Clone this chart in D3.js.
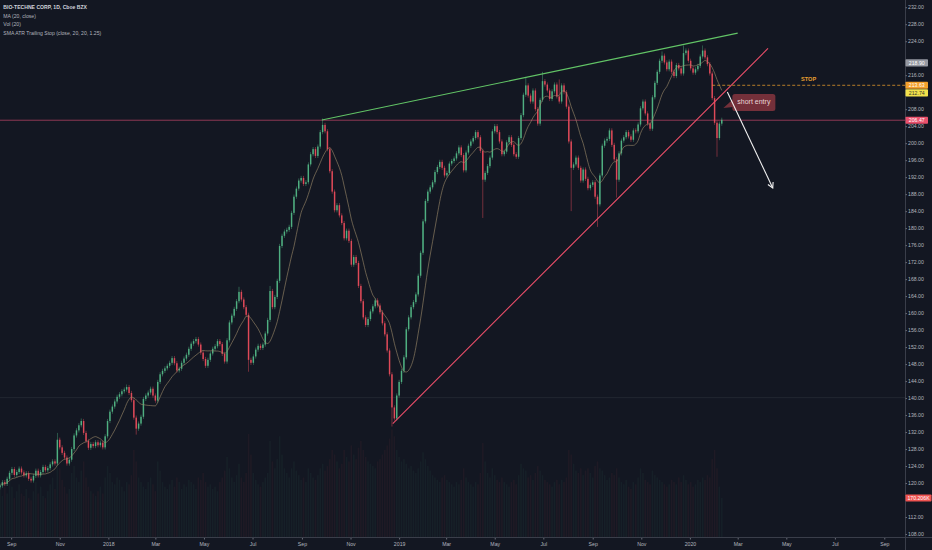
<!DOCTYPE html>
<html lang="en">
<head>
    <meta charset="UTF-8"/>
    <title>BIO-TECHNE CORP, 1D, Cboe BZX</title>
    <script src="https://d3js.org/d3.v7.min.js"></script>
    <style>
        html, body {
            margin: 0;
            padding: 0;
            background: #131722;
        }
        svg {
            display: block;
        }
        text {
            font-family: "Liberation Sans", Arial, sans-serif;
        }
    </style>
</head>
<body>
<div id="chart"></div>
<script>
    // one candle every 3 calendar days, starting here
    const firstDate = "2017-08-18";
    const stepDays = 3;

    // closing prices
    const closes = [
        119.4, 120.2, 119.8, 121.0, 122.4, 123.3, 121.9, 122.6, 123.4, 122.5,
        121.8, 122.3, 121.0, 120.6, 121.7, 122.9, 121.8, 122.6, 123.8, 123.0,
        123.5, 124.4, 125.1, 124.6, 130.2, 128.4, 127.1, 126.0, 124.6, 125.5,
        128.0, 131.2, 132.4, 133.6, 134.6, 131.8, 129.9, 128.3, 129.2, 128.7,
        129.6, 128.9, 129.5, 128.4, 131.0, 134.6, 136.8, 138.0, 139.2, 140.3,
        140.9, 141.6, 142.0, 142.6, 141.2, 139.5, 135.4, 132.8, 134.0, 135.6,
        139.8, 140.6, 141.3, 142.2, 140.6, 139.4, 143.8, 145.6, 146.4, 147.0,
        147.6, 148.3, 149.4, 148.2, 146.5, 146.9, 148.3, 149.3, 150.2, 151.6,
        152.8, 153.4, 153.9, 152.6, 150.7, 149.2, 147.6, 149.0, 150.5, 151.6,
        152.2, 153.4, 152.7, 150.4, 148.6, 153.6, 157.8, 159.4, 161.0, 162.8,
        165.0, 163.2, 161.4, 159.6, 149.0, 148.3, 149.8, 151.4, 152.3, 151.8,
        152.6, 155.2, 158.4, 165.2, 161.4, 163.8, 167.6, 175.8, 178.2, 179.2,
        179.6, 180.3, 183.6, 187.4, 189.3, 191.2, 191.8, 190.4, 190.8, 195.0,
        197.4, 198.6, 197.0, 199.2, 202.6, 204.3, 202.8, 198.6, 193.4, 188.6,
        184.2, 185.4, 183.0, 181.2, 177.6, 179.4, 177.0, 171.4, 173.2, 171.8,
        166.4, 162.8, 159.0, 157.2, 158.6, 160.4, 161.6, 163.0, 161.8, 160.2,
        157.6, 155.0, 151.2, 145.6, 137.8, 135.2, 140.6, 143.8, 146.4, 149.6,
        156.2, 159.0, 161.4, 162.6, 164.4, 168.8, 174.2, 181.6, 186.4, 188.6,
        189.6, 190.8, 193.2, 194.4, 195.6, 194.2, 192.4, 193.0, 195.2, 195.8,
        196.4, 197.6, 199.0, 197.2, 193.6, 197.8, 199.4, 200.4, 201.2, 202.6,
        201.4, 198.2, 191.4, 193.0, 194.6, 196.6, 202.8, 204.0, 202.6, 200.4,
        197.4, 198.0, 200.2, 201.4, 199.6, 197.4, 196.8, 201.2, 206.6, 211.4,
        213.6, 211.2, 209.8, 212.4, 208.0, 204.6, 210.2, 214.6, 213.8, 212.4,
        210.4, 212.2, 213.8, 211.0, 209.8, 213.6, 212.0, 208.6, 200.4, 194.2,
        195.0, 196.6, 194.2, 191.2, 193.8, 191.6, 189.4, 190.2, 190.8, 187.4,
        185.6, 192.4, 199.4, 200.6, 201.0, 203.0, 199.6, 196.2, 191.4, 197.6,
        200.6, 201.4, 202.6, 201.6, 200.8, 203.0, 202.8, 204.4, 208.2, 209.8,
        207.0, 204.6, 203.4, 210.8, 214.2, 216.8, 219.4, 220.6, 219.0, 217.4,
        219.2, 216.8, 215.8, 218.4, 217.6, 216.4, 221.2, 221.8, 219.4, 217.6,
        216.6, 217.4, 218.2, 220.4, 221.8, 220.2, 218.6, 216.4, 210.6, 204.8,
        201.2, 204.6, 205.5
    ];
    const firstOpen = 119.0;

    // volume in thousands
    const volumes = [
        210, 180, 240, 190, 260, 220, 170, 200, 230, 190,
        180, 210, 170, 160, 200, 240, 190, 220, 180, 170,
        200, 230, 260, 210, 420, 300, 250, 220, 190, 210,
        280, 310, 260, 240, 290, 330, 260, 220, 200, 190,
        180, 200, 220, 190, 260, 310, 280, 240, 230, 260,
        250, 220, 200, 240, 230, 270, 380, 330, 260, 240,
        220, 210, 240, 260, 230, 200, 330, 290, 240, 220,
        210, 230, 250, 220, 260, 240, 210, 230, 220, 250,
        240, 230, 210, 260, 250, 280, 240, 220, 230, 210,
        220, 200, 240, 260, 290, 350, 300, 260, 240, 270,
        320, 260, 240, 280, 450, 360, 280, 250, 230, 220,
        240, 260, 280, 420, 330, 300, 340, 440, 360, 300,
        280, 260, 300, 330, 290, 270, 250, 260, 240, 300,
        280, 260, 250, 270, 300, 320, 290, 310, 340, 380,
        360, 330, 300, 320, 380, 350, 330, 400, 360, 340,
        390, 420, 380, 350, 330, 320, 310, 300, 330, 340,
        360, 380, 400, 430, 470, 440, 380, 350, 330, 340,
        320, 300, 310, 290, 280, 300, 330, 370, 340, 310,
        290, 270, 260, 250, 240, 260, 270, 250, 240, 230,
        220, 240, 230, 250, 300, 260, 240, 230, 220, 240,
        230, 280, 410, 330, 280, 260, 300, 270, 250, 240,
        260, 240, 230, 220, 240, 250, 230, 270, 320, 300,
        290, 260, 270, 250, 280, 310, 290, 270, 250, 240,
        230, 220, 240, 250, 230, 250, 240, 260, 380, 360,
        320, 290, 280, 300, 270, 290, 300, 280, 260, 310,
        330, 300, 290, 270, 250, 260, 280, 270, 300, 260,
        240, 230, 250, 220, 210, 240, 230, 260, 300, 280,
        250, 240, 230, 290, 270, 260, 250, 240, 230, 220,
        230, 250, 240, 230, 260, 240, 270, 250, 230, 240,
        220, 230, 250, 240, 260, 250, 270, 260, 340, 380,
        300, 220, 170.206
    ];

    // long wicks: [candle index, price]
    const wickHighs = [[24, 131.8], [34, 135.2], [53, 143.2], [100, 166.2], [113, 166.4], [135, 205.8],
        [220, 215.6], [227, 216.8], [234, 215.0], [277, 221.6], [286, 223.0], [294, 223.0]];
    const wickLows = [[57, 131.4], [104, 146.2], [164, 133.3], [202, 182.4], [239, 184.0],
        [250, 180.3], [258, 187.2], [300, 196.8]];

    const monthTicks = ["2017-09-01", "2017-11-01", "2018-01-01", "2018-03-01", "2018-05-01", "2018-07-01",
        "2018-09-01", "2018-11-01", "2019-01-01", "2019-03-01", "2019-05-01", "2019-07-01", "2019-09-01",
        "2019-11-01", "2020-01-01", "2020-03-01", "2020-05-01", "2020-07-01", "2020-09-01"];
    const priceTicks = d3.range(108, 233, 4);

    const legendLines = ["BIO-TECHNE CORP, 1D, Cboe BZX", "MA (20, close)", "Vol (20)",
        "SMA ATR Trailing Stop (close, 20, 20, 1.25)"];

    // drawings
    const upperTrend = [["2018-09-26", 205.45], ["2020-03-01", 225.9]];
    const lowerTrend = [["2018-12-24", 134.0], ["2020-04-08", 222.3]];
    const lastLevel = 205.4;
    const guideLevel = 140.1;
    const stopFrom = "2020-01-29";
    const stopPrice = 213.63;
    const entryNote = {date: "2020-02-12", price: 208.3, text: "short entry"};
    const targetArrow = [["2020-02-17", 212.04], ["2020-04-14", 189.44]];

    // price scale badges
    const badges = [
        {text: "218.90", price: 218.90, fill: "#9598a1", color: "#ffffff"},
        {text: "213.63", price: 213.63, fill: "#f5a12b", color: "#ffffff"},
        {text: "212.74", price: 212.74, fill: "#f2e14c", color: "#3a3a2a"},
        {text: "206.47", price: lastLevel, fill: "#e9506c", color: "#ffffff"}
    ];
    const volumeBadge = {text: "170.206K", value: 170.206, fill: "#ef5350", color: "#ffffff"};

    const width = 932, height = 550;
    const plotW = 905, plotH = 537;
    const parse = d3.timeParse("%Y-%m-%d");

    const svg = d3.select("#chart")
        .append("svg")
        .attr("width", width)
        .attr("height", height);

    svg.append("rect").attr("width", width).attr("height", height).attr("fill", "#131722");

    // scales
    const x = d3.scaleTime()
        .domain([parse("2017-08-18"), parse("2020-09-27")])
        .range([0, plotW]);
    const y = d3.scaleLinear()
        .domain([107.3, 233.7])
        .range([plotH, 0]);
    const yVol = d3.scaleLinear()
        .domain([0, 2345])
        .range([plotH, 0]);

    // build candles
    const start = parse(firstDate);
    const hiMap = new Map(wickHighs), loMap = new Map(wickLows);
    const candles = closes.map(function(c, i) {
        const o = i === 0 ? firstOpen : closes[i - 1];
        const top = Math.max(o, c), bot = Math.min(o, c);
        return {
            date: d3.timeDay.offset(start, i * stepDays),
            open: o, close: c,
            high: hiMap.has(i) ? hiMap.get(i) : top + 0.5,
            low: loMap.has(i) ? loMap.get(i) : bot - 0.5,
            volume: volumes[i]
        };
    });
    const barStep = x(d3.timeDay.offset(start, stepDays)) - x(start);
    const bodyW = barStep * 0.62;

    const plot = svg.append("g");
    svg.append("clipPath").attr("id", "clip")
        .append("rect").attr("width", plotW).attr("height", plotH);
    plot.attr("clip-path", "url(#clip)");

    const up = "#53b987", down = "#eb4d5c";

    // volume bars (very faint overlay)
    plot.selectAll(".vol")
        .data(candles)
        .enter().append("rect")
        .attr("x", function(d) { return x(d.date) - bodyW / 2; })
        .attr("width", bodyW)
        .attr("y", function(d) { return yVol(d.volume); })
        .attr("height", function(d) { return plotH - yVol(d.volume); })
        .attr("fill", function(d) { return d.close >= d.open ? up : down; })
        .attr("opacity", 0.06);

    // faint horizontal guide
    plot.append("line")
        .attr("x1", 0).attr("x2", plotW)
        .attr("y1", y(guideLevel)).attr("y2", y(guideLevel))
        .attr("stroke", "#262b36").attr("stroke-width", 0.8);

    // last price line
    plot.append("line")
        .attr("x1", 0).attr("x2", plotW)
        .attr("y1", y(lastLevel)).attr("y2", y(lastLevel))
        .attr("stroke", "#9b3b58").attr("stroke-width", 0.9);

    // wicks and bodies
    plot.selectAll(".wick")
        .data(candles)
        .enter().append("line")
        .attr("x1", function(d) { return x(d.date); })
        .attr("x2", function(d) { return x(d.date); })
        .attr("y1", function(d) { return y(d.high); })
        .attr("y2", function(d) { return y(d.low); })
        .attr("stroke", function(d) { return d.close >= d.open ? up : down; })
        .attr("stroke-width", 0.6)
        .attr("opacity", 0.75);

    plot.selectAll(".body")
        .data(candles)
        .enter().append("rect")
        .attr("x", function(d) { return x(d.date) - bodyW / 2; })
        .attr("width", bodyW)
        .attr("y", function(d) { return y(Math.max(d.open, d.close)); })
        .attr("height", function(d) { return Math.max(0.6, Math.abs(y(d.open) - y(d.close))); })
        .attr("fill", function(d) { return d.close >= d.open ? up : down; })
        .attr("opacity", 0.9);

    // MA line over 10 candles (about 20 sessions)
    const maWindow = 10;
    const ma = candles.map(function(d, i) {
        const from = Math.max(0, i - maWindow + 1);
        return {date: d.date, value: d3.mean(closes.slice(from, i + 1))};
    });
    plot.append("path")
        .datum(ma)
        .attr("fill", "none")
        .attr("stroke", "#a08d6c")
        .attr("stroke-width", 0.8)
        .attr("opacity", 0.75)
        .attr("d", d3.line()
            .x(function(d) { return x(d.date); })
            .y(function(d) { return y(d.value); })
            .curve(d3.curveMonotoneX));

    // trend lines
    const trendLine = d3.line()
        .x(function(d) { return x(parse(d[0])); })
        .y(function(d) { return y(d[1]); });
    plot.append("path").datum(upperTrend)
        .attr("fill", "none").attr("stroke", "#62c466").attr("stroke-width", 1.1)
        .attr("d", trendLine);
    plot.append("path").datum(lowerTrend)
        .attr("fill", "none").attr("stroke", "#ee4f6a").attr("stroke-width", 1.1)
        .attr("d", trendLine);

    // stop level
    const stopX = x(parse(stopFrom));
    plot.append("line")
        .attr("x1", stopX).attr("x2", plotW)
        .attr("y1", y(stopPrice)).attr("y2", y(stopPrice))
        .attr("stroke", "#e39b2c").attr("stroke-width", 0.8)
        .attr("stroke-dasharray", "3,2");
    plot.append("text")
        .attr("x", (stopX + plotW) / 2).attr("y", y(stopPrice) - 4)
        .attr("text-anchor", "middle")
        .style("font-size", "5.6px").style("font-weight", "bold")
        .attr("fill", "#e8a030")
        .text("STOP");

    // short entry callout
    const nx = x(parse(entryNote.date)), ny = y(entryNote.price);
    plot.append("path")
        .attr("d", "M" + nx + "," + ny + "L" + (nx + 10) + "," + (ny - 9) + "L" + (nx + 10) + "," + (ny - 1) + "Z")
        .attr("fill", "#74303a");
    plot.append("rect")
        .attr("x", nx + 9).attr("y", ny - 14)
        .attr("width", 43).attr("height", 17).attr("rx", 2.5)
        .attr("fill", "#74303a");
    plot.append("text")
        .attr("x", nx + 30.5).attr("y", ny - 5.5)
        .attr("text-anchor", "middle").attr("dominant-baseline", "middle")
        .style("font-size", "7px")
        .attr("fill", "#e9d6d6")
        .text(entryNote.text);

    // target arrow
    const ax1 = x(parse(targetArrow[0][0])), ay1 = y(targetArrow[0][1]);
    const ax2 = x(parse(targetArrow[1][0])), ay2 = y(targetArrow[1][1]);
    const ang = Math.atan2(ay2 - ay1, ax2 - ax1);
    const head = 6, spread = 0.5;
    plot.append("line")
        .attr("x1", ax1).attr("y1", ay1).attr("x2", ax2).attr("y2", ay2)
        .attr("stroke", "#f2f2f2").attr("stroke-width", 1.1);
    plot.append("path")
        .attr("d", "M" + (ax2 - head * Math.cos(ang - spread)) + "," + (ay2 - head * Math.sin(ang - spread)) +
            "L" + ax2 + "," + ay2 +
            "L" + (ax2 - head * Math.cos(ang + spread)) + "," + (ay2 - head * Math.sin(ang + spread)))
        .attr("fill", "none").attr("stroke", "#f2f2f2").attr("stroke-width", 1.1);

    // Add X axis
    svg.append("line")
        .attr("x1", 0).attr("x2", width)
        .attr("y1", plotH + 0.5).attr("y2", plotH + 0.5)
        .attr("stroke", "#3a3e4a").attr("stroke-width", 1);
    const fmt = function(d) { return d.getMonth() === 0 ? d3.timeFormat("%Y")(d) : d3.timeFormat("%b")(d); };
    const xAxis = svg.append("g")
        .attr("transform", "translate(0," + (plotH + 1) + ")")
        .call(d3.axisBottom(x).tickValues(monthTicks.map(parse)).tickFormat(fmt).tickSize(1.5).tickPadding(3));
    xAxis.select(".domain").remove();
    xAxis.selectAll("line").attr("stroke", "#6a6d78");
    xAxis.selectAll("text").attr("fill", "#b2b5be").style("font-size", "5.2px")
        .style("font-family", "'Liberation Sans', Arial, sans-serif");

    // price badges, pushed apart like the price scale does
    const badgeH = 7.2;
    const placed = badges.map(function(b) { return Object.assign({}, b, {cy: y(b.price)}); })
        .sort(function(a, b) { return a.cy - b.cy; });
    for (let i = 1; i < placed.length; i++) {
        if (placed[i].cy - placed[i - 1].cy < badgeH + 0.4) placed[i].cy = placed[i - 1].cy + badgeH + 0.4;
    }
    placed.push(Object.assign({}, volumeBadge, {cy: yVol(volumeBadge.value), wide: true}));

    // Add Y axis (tick labels hidden where a badge sits on them)
    svg.append("line")
        .attr("x1", plotW + 0.5).attr("x2", plotW + 0.5)
        .attr("y1", 0).attr("y2", height)
        .attr("stroke", "#3a3e4a").attr("stroke-width", 1);
    const visibleTicks = priceTicks.filter(function(t) {
        return placed.every(function(b) { return Math.abs(y(t) - b.cy) > badgeH / 2 + 2; });
    });
    const yAxis = svg.append("g")
        .attr("transform", "translate(" + (plotW + 0.5) + ",0)")
        .call(d3.axisRight(y).tickValues(visibleTicks).tickFormat(d3.format(".2f")).tickSize(1.5).tickPadding(1));
    yAxis.select(".domain").remove();
    yAxis.selectAll("line").attr("stroke", "#6a6d78");
    yAxis.selectAll("text").attr("fill", "#b2b5be").style("font-size", "5.2px")
        .style("font-family", "'Liberation Sans', Arial, sans-serif");

    const badgeG = svg.selectAll(".badge")
        .data(placed)
        .enter().append("g");
    badgeG.append("rect")
        .attr("x", plotW + 0.5)
        .attr("y", function(d) { return d.cy - badgeH / 2; })
        .attr("width", function(d) { return d.wide ? 26 : 22.5; })
        .attr("height", badgeH)
        .attr("rx", 0.8)
        .attr("fill", function(d) { return d.fill; });
    badgeG.append("text")
        .attr("x", function(d) { return plotW + 0.5 + (d.wide ? 13 : 11.25); })
        .attr("y", function(d) { return d.cy; })
        .attr("text-anchor", "middle").attr("dominant-baseline", "central")
        .style("font-size", "5.2px")
        .attr("fill", function(d) { return d.color; })
        .text(function(d) { return d.text; });

    // legend
    svg.selectAll(".legend")
        .data(legendLines)
        .enter().append("text")
        .attr("x", 3.3)
        .attr("y", function(d, i) { return 6.8 + i * 8.8; })
        .attr("dominant-baseline", "central")
        .style("font-size", "5.1px")
        .style("font-weight", function(d, i) { return i === 0 ? "bold" : "normal"; })
        .attr("fill", function(d, i) { return i === 0 ? "#d1d4dc" : "#b2b5be"; })
        .text(function(d) { return d; });
</script>
</body>
</html>
